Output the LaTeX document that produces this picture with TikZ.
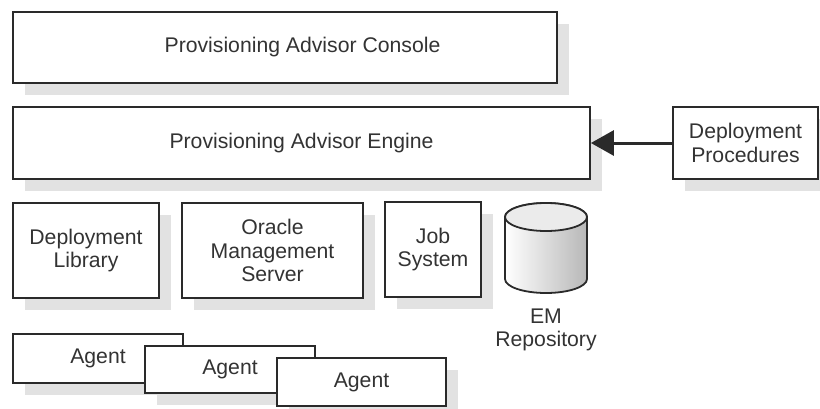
\documentclass[tikz,border=0pt]{standalone}
\usepackage{fontspec}
\setmainfont{Liberation Sans}
\usetikzlibrary{arrows.meta,shadows}
\definecolor{txt}{HTML}{333333}
\definecolor{edge}{HTML}{2A2A2A}
\definecolor{shd}{HTML}{E2E2E2}
\begin{document}
\begin{tikzpicture}[x=1pt,y=-1pt,
  every node/.style={font=\fontsize{21.2}{23.5}\selectfont, text=txt},
  box/.style={draw=edge, line width=1.8pt, fill=white, rectangle, inner sep=0pt, align=center,
    drop shadow={shadow xshift=12pt, shadow yshift=-12pt, fill=shd, opacity=1}},
  flow/.style={draw=edge, line width=3pt, -{Triangle[length=23pt,width=25pt]}}
]
\useasboundingbox (0,0) rectangle (820,408);
\fill[white] (0,0) rectangle (820,408);

\node[box, minimum width=544pt, minimum height=71pt] (console) at (285,47.5) {\hspace*{35pt}Provisioning Advisor Console};
\node[box, minimum width=577pt, minimum height=72pt] (engine) at (301.5,143) {Provisioning Advisor Engine};
\node[box, minimum width=145pt, minimum height=72pt] (dp) at (745.5,143) {Deployment\\Procedures};
\draw[flow] (dp.west) -- (engine.east);

\node[box, minimum width=146pt, minimum height=95pt] (dl) at (86,250.5) {Deployment\\Library};
\node[box, minimum width=181pt, minimum height=95pt] (oms) at (272.5,250.5) {Oracle\\Management\\Server};
\node[box, minimum width=96pt, minimum height=95pt] (job) at (433,249.5) {Job\\System};

% EM repository cylinder
\draw[edge, line width=1.8pt, left color=white, right color=black!28]
  (505,217) -- (505,279) arc[start angle=180, end angle=360, x radius=41pt, y radius=14pt]
  -- (587,217) arc[start angle=0, end angle=180, x radius=41pt, y radius=14pt] -- cycle;
\draw[edge, line width=1.8pt, fill=black!8] (546,217) ellipse [x radius=41pt, y radius=14pt];
\node[align=center] (emrepo) at (546,330) {EM\\Repository};

\node[box, minimum width=170pt, minimum height=49pt] (agent1) at (98,358.5) {Agent};
\node[box, minimum width=170pt, minimum height=47pt] (agent2) at (230,369.5) {Agent};
\node[box, minimum width=169pt, minimum height=48pt] (agent3) at (361.5,382) {Agent};
\end{tikzpicture}
\end{document}
